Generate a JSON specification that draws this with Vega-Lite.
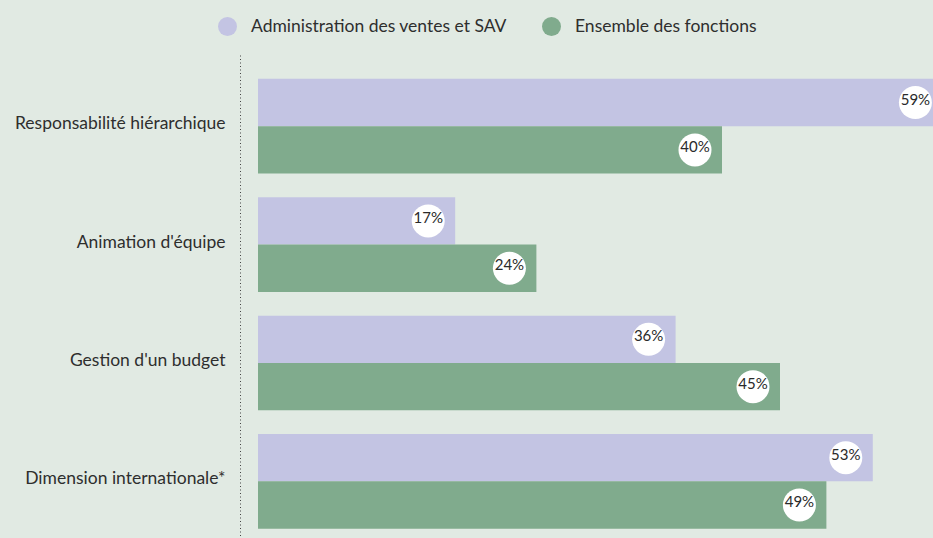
{
  "$schema": "https://vega.github.io/schema/vega-lite/v6.json",
  "width": 675,
  "height": 483,
  "autosize": {"type": "none"},
  "padding": {"left": 258, "top": 55, "right": 0, "bottom": 0},
  "background": "#e1eae3",
  "config": {"view": {"stroke": null}, "font": "Lato"},
  "data": {
    "values": [
      {"fonction": "Responsabilité hiérarchique", "serie": "Administration des ventes et SAV", "part": 0.59},
      {"fonction": "Responsabilité hiérarchique", "serie": "Ensemble des fonctions", "part": 0.40},
      {"fonction": "Animation d'équipe", "serie": "Administration des ventes et SAV", "part": 0.17},
      {"fonction": "Animation d'équipe", "serie": "Ensemble des fonctions", "part": 0.24},
      {"fonction": "Gestion d'un budget", "serie": "Administration des ventes et SAV", "part": 0.36},
      {"fonction": "Gestion d'un budget", "serie": "Ensemble des fonctions", "part": 0.45},
      {"fonction": "Dimension internationale*", "serie": "Administration des ventes et SAV", "part": 0.53},
      {"fonction": "Dimension internationale*", "serie": "Ensemble des fonctions", "part": 0.49}
    ]
  },
  "encoding": {
    "y": {
      "field": "fonction",
      "type": "nominal",
      "sort": null,
      "scale": {"paddingInner": 0.2, "paddingOuter": 0.14, "align": 0.72},
      "axis": {
        "title": null,
        "offset": 18,
        "ticks": false,
        "grid": false,
        "domain": true,
        "domainDash": [1, 2.5],
        "domainColor": "#444",
        "domainWidth": 1,
        "labelPadding": 15,
        "labelLimit": 0,
        "labelFont": "Lato",
        "labelFontSize": 17.5,
        "labelColor": "#2e2e2e",
        "labelBaseline": "middle",
        "labelOffset": -2
      }
    },
    "yOffset": {
      "field": "serie",
      "type": "nominal",
      "sort": null,
      "scale": {"paddingInner": 0, "paddingOuter": 0}
    },
    "x": {
      "field": "part",
      "type": "quantitative",
      "scale": {"domain": [0, 0.5819], "nice": false, "zero": true},
      "axis": null
    }
  },
  "layer": [
    {
      "mark": {"type": "bar", "clip": true},
      "encoding": {
        "color": {
          "field": "serie",
          "type": "nominal",
          "sort": null,
          "scale": {
            "domain": ["Administration des ventes et SAV", "Ensemble des fonctions"],
            "range": ["#c3c4e3", "#80ab8d"]
          },
          "legend": {
            "orient": "none",
            "legendX": -40,
            "legendY": -38,
            "direction": "horizontal",
            "title": null,
            "symbolType": "circle",
            "symbolSize": 361,
            "symbolOpacity": 1,
            "symbolStrokeWidth": 0,
            "labelFont": "Lato",
            "labelFontSize": 17.5,
            "labelLimit": 0,
            "labelColor": "#2e2e2e",
            "columnPadding": 35,
            "labelOffset": 14
          }
        }
      }
    },
    {
      "mark": {"type": "point", "shape": "circle", "filled": true, "color": "white", "opacity": 1, "strokeWidth": 0, "size": 1090, "xOffset": -27, "yOffset": -3}
    },
    {
      "mark": {"type": "text", "dx": -27, "dy": -3, "fontSize": 15, "font": "Lato", "color": "#2a2a2a", "align": "center", "baseline": "middle"},
      "encoding": {"text": {"field": "part", "format": ".0%"}}
    }
  ]
}
